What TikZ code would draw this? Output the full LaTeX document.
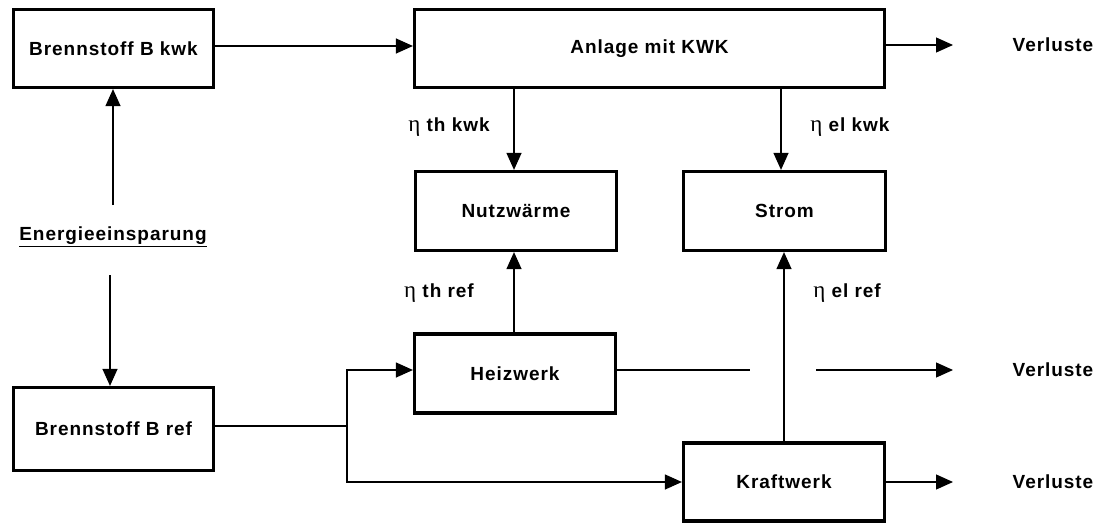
\documentclass[tikz,border=0pt]{standalone}
\usepackage{fontspec}
\setmainfont{Liberation Sans}[LetterSpace=5]
\newfontfamily\etafont{Liberation Serif}
\newcommand{\myeta}{{\etafont\mdseries\fontsize{23}{22}\selectfont η}}
\usetikzlibrary{arrows.meta}
\begin{document}
\begin{tikzpicture}[x=1pt,y=-1pt,
  box/.style={draw,line width=3.2pt,minimum width=#1,inner sep=0pt,font=\fontsize{19}{22}\selectfont\bfseries},
  lbl/.style={inner sep=0pt,font=\fontsize{19}{22}\selectfont\bfseries},
  flow/.style={line width=1.2pt,-{Triangle[length=17pt,width=15pt]}},
  plain/.style={line width=1.2pt}]
\useasboundingbox (0,0) rectangle (1099,524);
\node[box=200pt,minimum height=78pt] (bkwk) at (113.5,48.5) {Brennstoff B kwk};
\node[box=470pt,minimum height=78pt] (anl) at (649.5,48.5) {Anlage mit KWK};
\node[box=201pt,minimum height=79pt] (nutz) at (516,211) {Nutzwärme};
\node[box=202pt,minimum height=79pt] (strom) at (784.5,211) {Strom};
\node[box=201pt,minimum height=79pt] (heiz) at (515,373.5) {Heizwerk};
\node[box=200pt,minimum height=83pt] (bref) at (113.5,429) {Brennstoff B ref};
\node[box=201pt,minimum height=78pt] (kraft) at (784,482) {Kraftwerk};

\node[lbl] (ees) at (113,237) {\underline{Energieeinsparung}};
\node[lbl] (v1) at (1053,45) {Verluste};
\node[lbl] (v2) at (1053,370) {Verluste};
\node[lbl] (v3) at (1053,482) {Verluste};
\node[lbl] (ethk) at (449,127) {\myeta\ th kwk};
\node[lbl] (eelk) at (850,127) {\myeta\ el kwk};
\node[lbl] (ethr) at (439,293) {\myeta\ th ref};
\node[lbl] (eelr) at (847,293) {\myeta\ el ref};

\coordinate (v1a) at (953,45);
\coordinate (v2a) at (953,370);
\coordinate (v3a) at (953,482);
\coordinate (g1) at (750,370);
\coordinate (g2) at (816,370);
\coordinate (j) at (347,426);
\coordinate (ju) at (347,370);
\coordinate (jd) at (347,482);
\coordinate (eu) at (113,205);
\coordinate (ed) at (110,275);

\draw[flow] (bkwk.east |- 0,46) -- (anl.west |- 0,46);
\draw[flow] (anl.east |- 0,45) -- (v1a);
\draw[flow] (anl.south -| 514,0) -- (nutz.north -| 514,0);
\draw[flow] (anl.south -| 781,0) -- (strom.north -| 781,0);
\draw[flow] (eu) -- (bkwk.south -| eu);
\draw[flow] (ed) -- (bref.north -| ed);
\draw[flow] (heiz.north -| 514,0) -- (nutz.south -| 514,0);
\draw[flow] (kraft.north -| 784,0) -- (strom.south -| 784,0);
\draw[plain] (heiz.east |- g1) -- (g1);
\draw[flow] (g2) -- (v2a);
\draw[plain] (bref.east |- j) -- (j);
\draw[flow] (j) -- (ju) -- (heiz.west |- ju);
\draw[flow] (j) -- (jd) -- (kraft.west |- jd);
\draw[flow] (kraft.east |- v3a) -- (v3a);
\end{tikzpicture}
\end{document}
